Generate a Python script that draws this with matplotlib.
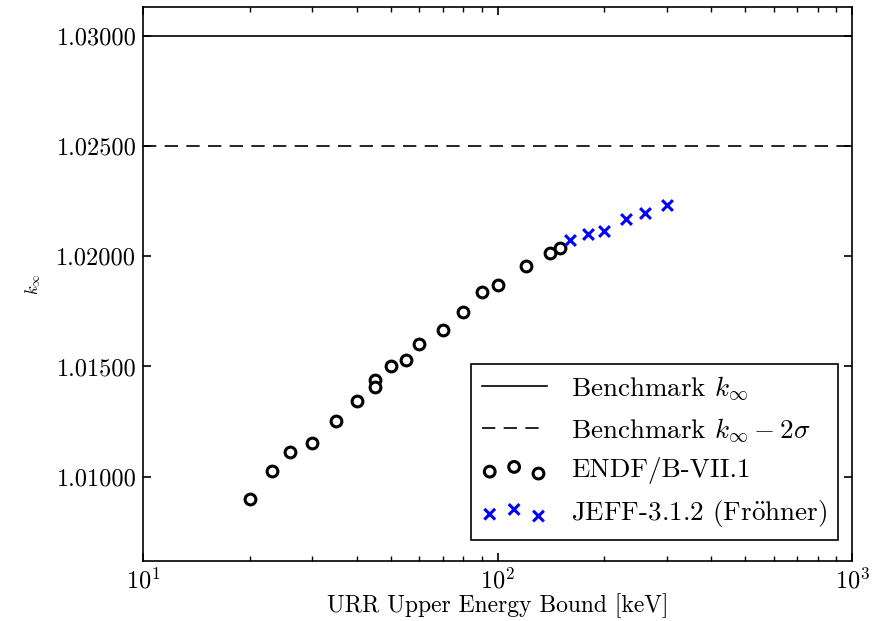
import matplotlib
matplotlib.use("Agg")
import matplotlib.pyplot as plt

# k-infinity vs URR upper energy bound
endf_e = [20, 23, 26, 30, 35, 40, 45, 45, 50, 55, 60, 70, 80, 90, 100, 120, 140, 150]
endf_k = [1.00899, 1.01026, 1.01110, 1.01155, 1.01255, 1.01345, 1.01437, 1.01409,
          1.01503, 1.01530, 1.01600, 1.01666, 1.01745, 1.01839, 1.01869, 1.01956,
          1.02014, 1.02037]
jeff_e = [160, 180, 200, 230, 260, 300]
jeff_k = [1.02074, 1.02102, 1.02115, 1.02168, 1.02198, 1.02233]
bench_k = 1.03
bench_2sig = 1.025

plt.rcParams['font.family'] = 'serif'
plt.rcParams['font.serif'] = ['cmr10']
plt.rcParams['mathtext.fontset'] = 'cm'
plt.rcParams['axes.formatter.use_mathtext'] = True
plt.rcParams['axes.unicode_minus'] = False
plt.rcParams['xtick.direction'] = 'in'
plt.rcParams['ytick.direction'] = 'in'
plt.rcParams['xtick.top'] = True
plt.rcParams['ytick.right'] = True

fig, ax = plt.subplots(figsize=(8.74, 6.21), dpi=100)
fig.subplots_adjust(left=0.164, right=0.975, top=0.989, bottom=0.097)

ax.axhline(bench_k, color='k', lw=1.2, label=r'Benchmark $k_\infty$')
ax.axhline(bench_2sig, color='k', lw=1.2, ls=(0, (8, 5)),
           label=r'Benchmark $k_\infty - 2\sigma$')
ax.scatter(endf_e, endf_k, s=60, facecolors='white', edgecolors='k', linewidths=2.2,
           label='ENDF/B-VII.1', zorder=3)
ax.scatter(jeff_e, jeff_k, s=60, marker='x', color='blue', linewidths=2.2,
           label=r'JEFF-3.1.2 (Fr$\ddot{\mathrm{o}}$hner)', zorder=3)

ax.set_xscale('log')
ax.set_xlim(10, 1000)
ax.set_ylim(1.00619, 1.03131)
yt = [1.010, 1.015, 1.020, 1.025, 1.030]
ax.set_yticks(yt)
ax.set_yticklabels(['%.5f' % v for v in yt])
ax.tick_params(which='major', length=6, width=1.2, labelsize=17.5, pad=5)
ax.tick_params(which='minor', length=3.5, width=1)
for sp in ax.spines.values():
    sp.set_linewidth(1.2)

ax.set_xlabel('URR Upper Energy Bound [keV]', fontsize=17, labelpad=0)
ax.set_ylabel(r'$k_\infty$', fontsize=12, labelpad=10)

leg = ax.legend(loc='lower right', bbox_to_anchor=(0.980, 0.038), borderaxespad=0,
                fontsize=19.5, scatterpoints=3, scatteryoffsets=[0.3, 0.55, 0.2],
                fancybox=False, framealpha=1, edgecolor='k', handlelength=2.4,
                labelspacing=0.5, handletextpad=0.9, borderpad=0.4)
leg.get_frame().set_linewidth(1.2)

fig.savefig('out.png', dpi=100)
